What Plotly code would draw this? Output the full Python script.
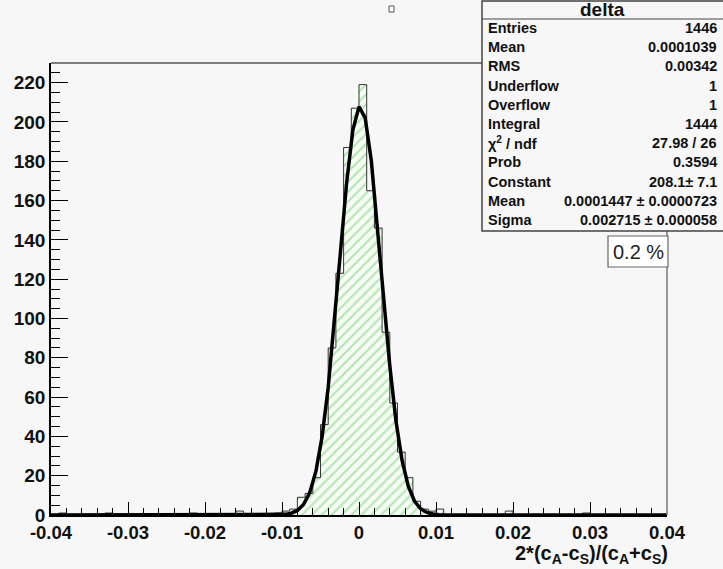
import numpy as np
import plotly.graph_objects as go

# ---------------- data ----------------
bin_lo = -0.04
bin_width = 0.001
# bin index (lower edge in units of 0.001 from 0) -> counts, all other bins empty
bin_index = [-39, -33, -22, -16, -11, -10, -9, -8, -7, -6, -5, -4, -3, -2, -1,
             0, 1, 2, 3, 4, 5, 6, 7, 8, 9, 10, 19, 29]
bin_counts = [1, 1, 1, 2, 1, 2, 3, 9, 11, 19, 46, 85, 123, 187, 207,
              219, 165, 146, 93, 57, 32, 19, 7, 3, 2, 3, 2, 1]

fit_constant = 208.1
fit_mean = 0.0001447
fit_sigma = 0.002715

x_tick_vals = [-0.04, -0.03, -0.02, -0.01, 0, 0.01, 0.02, 0.03, 0.04]
x_tick_text = ["-0.04", "-0.03", "-0.02", "-0.01", "0", "0.01", "0.02", "0.03", "0.04"]
y_tick_vals = [0, 20, 40, 60, 80, 100, 120, 140, 160, 180, 200, 220]

stats_labels = ["Entries", "Mean", "RMS", "Underflow", "Overflow", "Integral",
                "\u03c7<sup>2</sup> / ndf", "Prob", "Constant", "Mean", "Sigma"]
stats_values = ["1446", "0.0001039", "0.00342", "1", "1", "1444", "27.98 / 26",
                "0.3594", "208.1\u00b1 7.1", "0.0001447 \u00b1 0.0000723",
                "0.002715 \u00b1 0.000058"]
stats_title = "delta"
extra_label = "0.2 %"

# ---------------- build histogram ----------------
nbins = 80
counts = np.zeros(nbins)
for i, c in zip(bin_index, bin_counts):
    counts[i + 40] = c
edges = bin_lo + bin_width * np.arange(nbins + 1)
hx = edges
hy = np.append(counts, counts[-1])

fx = np.linspace(-0.04, 0.04, 101)
fy = fit_constant * np.exp(-0.5 * ((fx - fit_mean) / fit_sigma) ** 2)

W, H = 723, 569
L, R, T, B = 51, 667, 63, 515
BG = "#f7f7f7"
FAM = "Liberation Sans, Arial, sans-serif"


def px(x):
    return (x - L) / (R - L)


def py(y):
    return (B - y) / (B - T)


fig = go.Figure()
fig.add_trace(go.Scatter(
    x=hx, y=hy, mode="lines", line=dict(shape="hv", color="#333333", width=1),
    fill="tozeroy",
    fillpattern=dict(shape="/", fgcolor="#6fd16f", bgcolor="#f7fcf5", size=7, solidity=0.32),
    showlegend=False, hoverinfo="skip"))
fig.add_trace(go.Scatter(
    x=fx, y=fy, mode="lines", line=dict(color="black", width=3.5),
    showlegend=False, hoverinfo="skip"))

font_bold = dict(family=FAM, size=18.5, color="#111111", weight="bold")

fig.update_layout(
    width=W, height=H,
    margin=dict(l=L, r=W - R, t=T, b=H - B),
    paper_bgcolor=BG, plot_bgcolor=BG,
    xaxis=dict(range=[-0.04, 0.04], tickvals=x_tick_vals, ticktext=x_tick_text,
               ticks="inside", ticklen=13, tickwidth=1, tickcolor="black",
               minor=dict(dtick=0.002, tick0=0, ticks="inside", ticklen=7, tickcolor="black", tickwidth=1),
               showline=True, linecolor="black", linewidth=1.5, showgrid=False, zeroline=False,
               tickfont=font_bold),
    yaxis=dict(range=[0, 230], tickvals=y_tick_vals,
               ticks="inside", ticklen=17, tickwidth=1, tickcolor="black",
               minor=dict(dtick=5, tick0=0, ticks="inside", ticklen=9, tickcolor="black", tickwidth=1),
               showline=True, linecolor="black", linewidth=1.5, showgrid=False, zeroline=False,
               tickfont=dict(family=FAM, size=19, color="#111111", weight="bold")),
)

# frame top and right
fig.add_shape(type="line", xref="paper", yref="paper", x0=0, x1=1, y0=1, y1=1,
              line=dict(color="#555555", width=1.5))
fig.add_shape(type="line", xref="paper", yref="paper", x0=1, x1=1, y0=0, y1=1,
              line=dict(color="#777777", width=1.5))

# x-axis title
fig.add_annotation(xref="paper", yref="paper", x=px(670), y=py(554), xanchor="right", yanchor="middle",
                   text="2*(c<sub>A</sub>-c<sub>S</sub>)/(c<sub>A</sub>+c<sub>S</sub>)",
                   showarrow=False, font=dict(family=FAM, size=20, color="#111111", weight="bold"))

# stats box
bx0, bx1, by0, by1 = 482, 726, 1, 231
fig.add_shape(type="rect", xref="paper", yref="paper", x0=px(bx0), x1=px(bx1), y0=py(by1), y1=py(by0),
              fillcolor=BG, line=dict(color="#444444", width=1.5), layer="above")
fig.add_shape(type="line", xref="paper", yref="paper", x0=px(bx0), x1=px(bx1), y0=py(19), y1=py(19),
              line=dict(color="#444444", width=1.2), layer="above")
fig.add_annotation(xref="paper", yref="paper", x=px(602), y=py(10), xanchor="center", yanchor="middle",
                   text=stats_title, showarrow=False,
                   font=dict(family=FAM, size=19, color="#111111", weight="bold"))
row_font = dict(family=FAM, size=14.5, color="#111111", weight="bold")
for k, (lab, val) in enumerate(zip(stats_labels, stats_values)):
    yy = 28 + k * 19.2
    fig.add_annotation(xref="paper", yref="paper", x=px(486), y=py(yy), xanchor="left", yanchor="middle",
                       text=lab, showarrow=False, font=row_font)
    fig.add_annotation(xref="paper", yref="paper", x=px(719), y=py(yy), xanchor="right", yanchor="middle",
                       text=val, showarrow=False, font=row_font)

# 0.2 % box
fig.add_shape(type="rect", xref="paper", yref="paper", x0=px(608), x1=px(668), y0=py(267), y1=py(236),
              fillcolor="white", line=dict(color="#666666", width=1.2), layer="above")
fig.add_annotation(xref="paper", yref="paper", x=px(638), y=py(252), xanchor="center", yanchor="middle",
                   text=extra_label, showarrow=False,
                   font=dict(family=FAM, size=20, color="#222222"))

# small mark at top
fig.add_shape(type="rect", xref="paper", yref="paper", x0=px(389), x1=px(394), y0=py(12), y1=py(6),
              fillcolor="white", line=dict(color="#555555", width=1), layer="above")

fig.write_html("out.html", config={"displayModeBar": False},
               post_script="document.body.style.margin='0';document.body.style.background='%s';" % BG)
